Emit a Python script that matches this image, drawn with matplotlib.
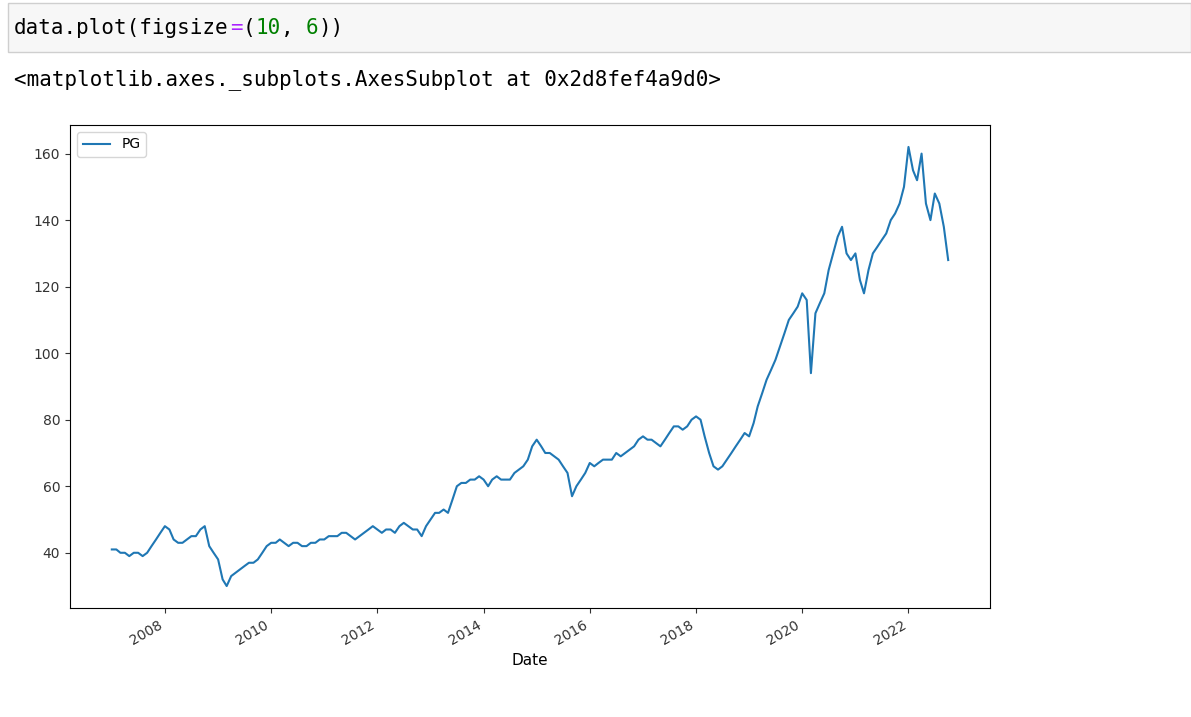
import matplotlib
matplotlib.use("Agg")
import matplotlib.pyplot as plt
import matplotlib.dates as mdates
import pandas as pd
from matplotlib.patches import Rectangle

series_name = "PG"
start_date = "2007-01-01"
pg_2007 = [41, 41, 40, 40, 39, 40, 40, 39, 40, 42, 44, 46]
pg_2008 = [48, 47, 44, 43, 43, 44, 45, 45, 47, 48, 42, 40]
pg_2009 = [38, 32, 30, 33, 34, 35, 36, 37, 37, 38, 40, 42]
pg_2010 = [43, 43, 44, 43, 42, 43, 43, 42, 42, 43, 43, 44]
pg_2011 = [44, 45, 45, 45, 46, 46, 45, 44, 45, 46, 47, 48]
pg_2012 = [47, 46, 47, 47, 46, 48, 49, 48, 47, 47, 45, 48]
pg_2013 = [50, 52, 52, 53, 52, 56, 60, 61, 61, 62, 62, 63]
pg_2014 = [62, 60, 62, 63, 62, 62, 62, 64, 65, 66, 68, 72]
pg_2015 = [74, 72, 70, 70, 69, 68, 66, 64, 57, 60, 62, 64]
pg_2016 = [67, 66, 67, 68, 68, 68, 70, 69, 70, 71, 72, 74]
pg_2017 = [75, 74, 74, 73, 72, 74, 76, 78, 78, 77, 78, 80]
pg_2018 = [81, 80, 75, 70, 66, 65, 66, 68, 70, 72, 74, 76]
pg_2019 = [75, 79, 84, 88, 92, 95, 98, 102, 106, 110, 112, 114]
pg_2020 = [118, 116, 94, 112, 115, 118, 125, 130, 135, 138, 130, 128]
pg_2021 = [130, 122, 118, 125, 130, 132, 134, 136, 140, 142, 145, 150]
pg_2022 = [162, 155, 152, 160, 145, 140, 148, 145, 138, 128]

values = (pg_2007 + pg_2008 + pg_2009 + pg_2010 + pg_2011 + pg_2012 + pg_2013 +
          pg_2014 + pg_2015 + pg_2016 + pg_2017 + pg_2018 + pg_2019 + pg_2020 +
          pg_2021 + pg_2022)
dates = pd.date_range(start_date, periods=len(values), freq="MS")

W, H = 1191, 717
fig = plt.figure(figsize=(W / 100, H / 100), dpi=100)
fig.patch.set_facecolor("white")

# code cell
fig.patches.append(Rectangle((8 / W, 1 - 52 / H), (W - 8) / W, 49 / H,
                             transform=fig.transFigure, facecolor="#f7f7f7",
                             edgecolor="#cfcfcf", lw=1))
mono = "DejaVu Sans Mono"
cw = 12.7
def put(text, col, y, color):
    fig.text((14 + col * cw) / W, 1 - y / H, text, family=mono, fontsize=15,
             color=color, va="center", ha="left")
code = [("data.plot(figsize", "black"), ("=", "#aa22ff"), ("(", "black"),
        ("10", "#008000"), (", ", "black"), ("6", "#008000"), ("))", "black")]
c = 0
for t, col in code:
    put(t, c, 28, col)
    c += len(t)
put("<matplotlib.axes._subplots.AxesSubplot at 0x2d8fef4a9d0>", 0, 80, "black")

ax = fig.add_axes([70 / W, 1 - 608 / H, 920 / W, 483 / H])
ax.plot(dates, values, color="#1f77b4", lw=1.5, label=series_name)
ax.margins(x=0.05, y=0.05)
ax.set_yticks([40, 60, 80, 100, 120, 140, 160])
ax.xaxis.set_major_locator(mdates.YearLocator(2))
ax.xaxis.set_major_formatter(mdates.DateFormatter("%Y"))
for lab in ax.get_xticklabels():
    lab.set_rotation(30)
    lab.set_ha("right")
ax.tick_params(labelsize=10, colors="#333333")
ax.set_xlabel("Date", fontsize=11)
ax.legend(loc="upper left", fontsize=10)
fig.savefig("out.png", dpi=100)
